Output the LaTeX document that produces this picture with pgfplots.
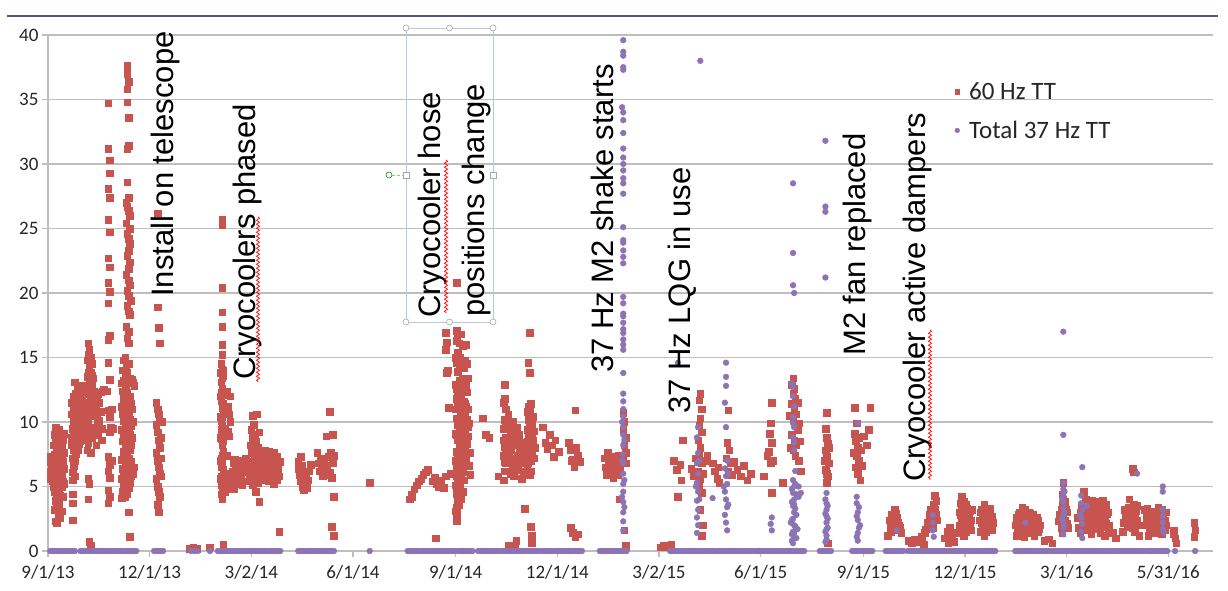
\documentclass[border=0pt]{standalone}
\usepackage{fontspec}
\setmainfont{Carlito}
\newfontfamily\arialf{Liberation Sans}
\usepackage{pgfplots}
\pgfplotsset{compat=1.18}
\usetikzlibrary{decorations.pathmorphing}
\definecolor{redTT}{RGB}{200,84,80}
\definecolor{purTT}{RGB}{140,115,180}
\definecolor{gridc}{RGB}{190,190,190}
\definecolor{topline}{RGB}{85,85,135}
\definecolor{selbox}{RGB}{184,200,220}
\begin{document}
\begin{tikzpicture}
\path[use as bounding box] (0pt,0pt) rectangle (1228pt,591pt);
\draw[topline, line width=2pt] (7pt,575pt) -- (1218pt,575pt);
\begin{axis}[
 at={(48pt,40pt)}, anchor=south west, scale only axis,
 width=1165pt, height=516pt,
 xmin=0, xmax=1043, ymin=0, ymax=40,
 axis x line*=bottom, axis y line*=left,
 axis line style={draw=gridc, line width=1.2pt},
 ymajorgrids, grid style={draw=gridc, line width=1.2pt},
 ytick={0,5,...,40},
 xtick={0,91,182,273,365,456,547,638,730,821,912,1003},
 xticklabels={9/1/13,12/1/13,3/2/14,6/1/14,9/1/14,12/1/14,3/2/15,6/1/15,9/1/15,12/1/15,3/1/16,5/31/16},
 tick align=outside, major tick length=6pt,
 tick style={draw=gridc, line width=1.2pt},
 ticklabel style={font=\fontsize{19}{22}\selectfont, text=black!85},
 xticklabel style={yshift=-5pt},
 /pgf/number format/assume math mode=true,
 clip=false,
 legend style={at={(0.7777,0.91)}, anchor=north west, draw=none, fill=none,
   font=\fontsize{25}{30}\selectfont, row sep=18pt, inner sep=0pt,
   nodes={inner sep=1pt, text=black!85}},
 legend cell align=left,
 legend image code/.code={\draw[#1, mark size=2.4pt] plot coordinates {(0pt,0pt)}; \path[draw=none,fill=none] (-3pt,-2pt) rectangle (11pt,2pt);},
]
% 60 Hz TT
\addplot[only marks, mark=square*, mark size=3.3pt, color=redTT] coordinates {
(2,5.6)(2,6.2)(2,6.9)(2,7.3)(3,5.9)(3,6.5)(4,5.4)(4,6.1)(4,7.0)(5,5.0)(5,6.3)(5,8.2)(6,3.2)(6,4.6)(6,5.8)(6,7.5)(6,9.0)(7,2.3)(7,3.9)(7,5.2)(7,6.6)(7,8.6)(7,9.6)(8,2.2)(8,3.4)(8,4.4)(8,5.5)(8,6.8)(8,8.0)(8,9.2)(9,2.9)(9,4.0)(9,5.1)(9,6.2)(9,7.4)(9,8.8)(10,3.6)(10,4.8)(10,5.9)(10,7.1)(10,8.4)(10,9.4)(11,2.6)(11,4.3)(11,5.6)(11,6.5)(11,7.8)(11,9.0)(12,3.1)(12,5.0)(12,6.0)(12,7.2)(12,8.2)(13,4.2)(13,5.4)(13,6.9)(13,8.6)(14,5.2)(14,6.4)(14,7.6)(14,9.1)
(21,8.2)(21,8.8)(21,10.6)(21,11.5)(22,2.4)(22,3.7)(22,4.4)(22,5.5)(22,6.1)(22,7.2)(22,9.5)(23,6.6)(23,7.8)(23,8.9)(23,10.0)(23,11.2)(23,12.0)(24,5.8)(24,7.0)(24,8.4)(24,9.3)(24,10.5)(24,11.8)(24,13.1)(25,7.5)(25,8.7)(25,9.8)(25,11.0)(25,12.2)(26,8.0)(26,9.1)(26,10.3)(26,11.5)(26,12.6)(27,7.8)(27,9.4)(27,10.8)(27,12.1)(28,8.3)(28,9.6)(28,11.2)(28,12.4)(29,8.5)(29,10.0)(29,11.6)(30,9.0)(30,10.4)(30,12.0)(31,8.6)(31,10.9)(31,12.8)(32,9.2)(32,11.4)(33,10.1)(33,12.2)
(30,11.4)(31,9.6)(32,10.4)(33,11.4)(34,11.5)(35,12.4)(36,13.8)(37,12.2)(38,11.4)(39,13.6)(40,10.7)(41,11.6)(42,12.0)(43,11.2)(44,9.8)(46,11.5)(47,10.8)
(34,9.0)(34,10.6)(34,12.3)(35,7.8)(35,9.8)(35,11.2)(35,13.5)(35,14.8)(36,8.4)(36,10.2)(36,12.6)(36,15.2)(36,16.1)(37,9.3)(37,11.5)(37,13.0)(37,14.2)(37,15.6)(38,7.6)(38,10.8)(38,12.0)(38,13.8)(38,15.0)(39,8.8)(39,11.1)(39,12.8)(39,14.5)(40,9.6)(40,11.9)(40,13.4)(41,10.5)(41,12.4)(42,11.0)(36,5.6)(37,5.2)(36,4.0)(37,0.7)(38,0.4)
(43,8.2)(43,9.2)(44,10.4)(44,11.8)(45,12.2)(45,9.0)(46,10.1)(47,12.3)(48,9.5)(48,8.6)(49,12.4)(50,12.5)(52,12.4)(53,12.4)
(54,34.7)(54,31.2)(55,30.3)(55,29.3)(54,28.1)(55,27.4)(54,25.7)(55,24.7)(54,22.7)(55,22.0)(54,20.8)(55,20.1)(54,19.2)(55,16.7)(54,16.4)(54,14.6)(55,13.3)(54,10.9)(55,10.4)(56,9.6)(55,9.2)(54,7.3)(55,6.7)(54,6.2)(55,5.7)(54,4.7)(55,4.2)(54,3.7)(57,11.0)(58,9.5)(57,7.0)
(71,37.6)(71,37.0)(72,36.4)(71,35.8)(71,34.8)(72,33.6)(72,31.4)(71,31.2)(71,28.6)(72,27.4)(70,27.0)(71,26.7)(72,26.4)(73,26.0)(70,25.4)(73,25.0)(71,24.6)(72,24.2)(73,23.8)(72,23.3)(71,22.9)(73,22.4)(72,21.9)(70,21.4)(72,21.0)(73,20.6)(71,20.2)(72,19.8)(74,19.4)(71,19.0)(72,18.6)(73,18.3)(70,17.4)(72,17.0)(71,16.5)(72,16.1)
(66,13.0)(66,11.2)(66,9.4)(66,7.1)(66,5.6)(66,4.1)(67,14.0)(67,12.4)(67,10.6)(67,8.5)(67,6.4)(67,4.6)(68,14.8)(68,13.2)(68,11.8)(68,10.1)(68,9.0)(68,7.7)(68,6.0)(68,5.0)(69,15.0)(69,13.6)(69,12.6)(69,11.0)(69,9.6)(69,8.3)(69,6.8)(69,5.4)(69,4.2)(70,14.2)(70,12.9)(70,11.5)(70,10.4)(70,9.2)(70,8.0)(70,7.0)(70,6.2)(70,5.1)(71,13.8)(71,12.3)(71,11.1)(71,9.9)(71,8.7)(71,7.5)(71,6.5)(71,5.6)(71,4.4)(72,14.5)(72,13.1)(72,11.7)(72,10.7)(72,9.5)(72,8.4)(72,7.2)(72,6.0)(72,4.9)(73,13.4)(73,12.0)(73,10.2)(73,9.0)(73,7.8)(73,6.6)(73,5.3)(74,13.0)(74,11.4)(74,9.7)(74,8.2)(74,6.9)(74,5.8)(75,13.3)(75,11.0)(75,8.8)(75,6.4)(76,13.1)(76,10.0)(76,6.0)(77,6.5)(77,12.8)(72,3.0)(73,1.1)
(98,26.2)(98,18.9)(99,17.3)(100,16.1)(97,11.5)(98,11.0)(99,10.6)(100,10.0)(97,9.8)(98,9.2)(99,8.6)(100,8.0)(97,7.6)(98,7.0)(99,6.5)(100,6.0)(97,5.6)(98,5.0)(99,4.6)(100,4.2)(98,3.6)(99,3.0)(101,7.2)(101,5.8)(102,10.0)(101,8.8)
(127,0.2)(130,0.3)(133,0.2)(145,0.3)
(156,25.7)(156,25.3)(156,20.4)(156,18.5)(156,17.4)(156,16.0)(156,15.2)(155,14.5)(156,14.1)(157,13.6)(155,13.1)(156,12.6)(157,12.1)(155,11.6)(156,11.1)(157,10.6)(155,10.1)(156,9.7)(157,9.2)(155,8.7)(156,8.2)(157,7.7)(155,7.2)(156,6.8)(157,6.3)(155,5.8)(156,5.4)(157,4.9)(155,4.4)(156,4.0)(158,12.4)(158,9.5)(158,6.0)(158,4.6)(154,13.8)(154,10.4)(154,7.0)(157,0.5)
(155,12.3)(155,9.4)(155,6.5)(155,5.1)(156,13.4)(156,10.4)(156,7.4)(156,4.7)(157,11.4)(157,8.5)(157,5.6)(157,14.0)(154,12.0)(154,8.8)(154,5.6)
(160,12.4)(161,11.2)(162,10.6)(161,9.3)(162,8.9)(163,12.0)(163,10.0)(160,7.4)(161,5.6)(161,4.8)(162,5.2)
(165,5.0)(165,6.2)(166,4.8)(166,6.8)(167,5.6)(167,7.1)(168,6.3)(169,5.2)(169,6.7)(170,6.0)(171,5.5)(171,7.0)(172,6.4)(173,5.8)(173,6.9)(174,5.1)(175,6.5)(176,6.8)(177,5.4)(177,7.2)(178,6.1)(179,6.6)(180,5.7)(181,8.2)(181,6.9)(182,9.4)(182,7.6)(182,5.9)(183,10.5)(183,8.8)(183,6.4)(183,5.1)(184,9.8)(184,7.9)(184,6.7)(185,9.0)(185,7.2)(185,5.6)(186,8.5)(186,6.3)(186,4.6)(187,10.6)(187,7.4)(187,6.0)(188,8.0)(188,6.6)(188,5.3)(189,9.2)(189,7.0)(189,3.8)(190,6.8)(190,5.8)(191,7.6)(191,6.2)(192,5.5)(192,7.0)(193,6.6)(194,7.8)(194,5.9)(195,6.9)(196,6.3)(196,7.4)(197,5.4)(198,6.7)(198,7.7)(199,6.0)(200,7.1)(200,5.6)(201,6.5)(202,7.6)(202,5.2)(203,6.8)(204,6.0)(205,7.3)(205,5.5)(206,6.4)(207,1.5)(207,5.8)(208,6.9)
(224,6.9)(224,6.4)(225,5.9)(226,7.3)(226,5.4)(227,6.6)(228,5.0)(228,6.1)(229,4.7)(230,5.6)(231,5.2)(231,6.0)(232,4.9)(233,5.5)(234,6.2)(235,6.7)
(241,7.6)(242,6.8)(243,6.2)(244,7.2)(245,6.5)(246,5.8)(247,7.0)(248,6.6)(249,5.9)(249,8.9)(250,6.4)(251,7.3)(252,10.8)(252,6.1)(253,7.6)(254,5.7)(255,6.8)(255,9.0)(256,7.4)(256,4.2)(254,1.9)(256,1.2)
(288,5.3)
(324,4.0)(325,4.4)(326,4.2)(328,4.8)(330,5.1)(332,5.4)(334,5.6)(336,5.9)(338,6.1)(340,6.3)
(344,5.4)(346,5.7)(348,5.2)(350,5.0)(352,5.5)(354,4.9)(356,5.8)(347,1.0)
(356,16.9)(357,16.2)(356,15.6)(358,14.0)(357,13.8)(359,11.1)(360,6.0)
(366,20.8)
(366,17.1)(366,16.3)(367,15.4)(366,14.6)(367,13.9)(368,13.2)(366,12.6)(367,12.0)(368,11.4)(369,10.8)(366,10.3)(367,9.8)(368,9.3)(369,8.7)(370,8.2)(366,7.7)(367,7.2)(368,6.8)(369,6.3)(366,5.8)(367,5.3)(368,4.8)(366,4.4)(367,3.9)(366,3.4)(366,2.9)(366,2.3)(370,16.8)(371,15.9)(370,14.8)(372,14.2)(371,13.4)(373,12.8)(370,12.2)(372,11.6)(371,11.0)(373,10.5)(374,10.0)(372,9.5)(371,9.0)(374,8.5)(373,7.9)(372,7.4)(370,6.9)(371,6.1)(372,5.5)(371,4.6)(375,12.3)(376,11.0)(377,9.9)(376,8.9)(378,7.6)(377,6.6)(378,5.9)(375,14.5)(374,16.0)
(365,15.0)(365,12.9)(365,11.0)(365,9.1)(365,7.0)(365,5.1)(365,3.1)(368,16.1)(368,14.4)(368,12.4)(368,10.1)(368,8.0)(368,5.9)(368,3.6)(369,15.0)(369,13.0)(369,11.8)(369,9.6)(369,7.6)(369,5.2)(370,11.0)(370,9.8)(370,7.8)(370,5.9)(370,4.0)(373,14.8)(373,11.4)(373,9.1)(373,6.6)(374,12.9)(374,11.2)(374,7.2)(375,10.2)(375,8.3)(376,13.4)(376,9.6)(367,16.8)(367,11.3)(367,8.6)(367,6.3)(367,4.5)(366,11.8)(366,9.0)(366,6.6)(366,5.0)
(389,10.3)(392,9.0)(395,8.8)(403,5.8)
(409,12.9)(408,11.5)(410,11.0)(409,10.2)(408,9.5)(410,8.8)(409,8.1)(408,7.4)(410,6.8)(409,6.2)(408,5.5)(411,7.8)(412,6.9)(413,7.4)(414,6.0)(415,8.2)(416,6.6)(417,5.8)(418,9.0)(419,7.1)(420,6.3)(421,8.4)(422,7.7)(423,6.8)(424,5.6)(425,7.4)(426,6.2)(427,3.3)(412,0.4)(418,0.4)(419,0.8)
(408,8.6)(409,11.8)(409,6.9)(410,10.0)(410,7.6)(411,9.6)(411,6.2)(412,8.8)(412,10.6)(413,6.2)(414,9.4)(414,7.8)(415,6.8)(416,10.0)(416,8.8)(417,7.2)(418,6.4)(419,8.2)(420,9.6)(420,7.4)(421,6.6)(422,9.0)(423,8.0)(424,7.0)(426,8.4)(429,9.4)(429,7.4)(430,11.2)(430,9.0)(430,6.8)(431,10.8)(431,8.4)(432,11.4)(432,7.9)(432,6.2)(433,9.8)(434,8.6)(435,7.2)
(431,16.9)(430,14.6)(431,13.8)(429,10.8)(430,10.2)(431,9.6)(432,9.0)(429,8.5)(430,8.0)(431,7.5)(432,7.0)(429,6.6)(431,5.9)(433,8.7)(434,10.4)(433,7.4)(432,1.9)(433,1.2)(433,0.6)(435,9.3)(436,8.0)
(443,9.6)(445,8.4)(447,7.9)(449,9.0)(451,8.2)(453,7.3)(454,8.6)(457,7.7)
(472,10.9)(466,8.4)(468,7.8)(470,7.1)(471,6.5)(473,8.0)(474,7.4)(476,6.9)(468,1.8)(470,1.4)(472,1.1)(474,1.3)(469,7.0)
(498,7.2)(499,6.5)(500,5.9)(501,7.6)(502,6.8)(503,6.0)(504,7.3)(505,6.4)(506,5.7)(507,7.0)(508,6.2)(509,6.8)(510,5.9)(511,7.4)(512,4.0)(512,6.5)
(515,10.7)(516,10.0)(515,9.4)(517,8.8)(516,8.2)(517,7.6)(515,7.1)(517,6.8)(516,1.6)(517,0.4)
(548,0.3)(551,0.4)(555,0.3)(558,0.5)
(568,8.6)(560,7.0)(563,6.3)(566,6.7)(564,4.2)(567,5.5)
(584,12.2)(583,11.7)(585,11.0)(584,10.3)(583,9.7)(585,9.2)(582,8.6)(584,8.0)(583,7.4)(585,6.8)(582,6.2)(584,5.6)(583,5.0)(585,4.5)(584,3.2)(576,6.4)(578,5.8)(580,7.2)(586,6.0)(588,7.0)(590,7.4)(586,2.0)(585,1.2)
(595,6.8)(597,6.2)(599,5.6)(601,5.3)(600,6.5)
(609,10.9)(608,8.4)(610,7.8)(607,7.2)(611,6.8)(609,6.2)(612,5.9)
(614,6.9)(617,6.3)(620,5.8)(623,6.6)(626,5.5)(629,6.0)
(648,11.5)(647,9.9)(646,9.1)(648,8.4)(645,7.7)(649,7.0)(647,6.8)(641,5.8)(648,4.5)(644,7.4)(658,5.3)
(667,13.4)(666,12.9)(668,12.6)(667,12.2)(669,11.8)(666,11.4)(668,11.0)(670,10.6)(667,10.2)(669,9.8)(671,9.4)(666,9.0)(668,8.6)(670,8.2)(667,7.8)(669,7.4)(672,9.9)(673,8.5)(664,10.5)(665,8.0)(671,11.5)(672,7.0)(674,6.2)
(697,10.7)(696,9.5)(697,8.8)(698,8.3)(696,7.8)(697,7.3)(699,6.8)(696,6.3)(698,5.8)(697,5.3)(695,7.0)(699,8.0)(698,0.6)(697,6.0)
(722,11.1)(736,11.1)(724,9.9)(722,9.1)(723,8.5)(725,8.0)(724,7.4)(726,7.0)(723,6.5)(725,6.0)(727,5.5)(728,7.8)(729,6.6)(730,8.9)(733,8.2)(735,9.4)(721,7.6)(726,8.8)
(758,3.2)(752,1.2)(754,1.8)(756,2.2)(760,2.6)(762,2.0)(764,1.4)(759,2.9)(757,2.5)(755,1.5)(753,2.4)(755,2.8)(757,1.6)(759,1.9)(761,2.2)(763,1.8)
(770,0.8)(773,0.6)(776,0.9)(779,0.7)(782,1.1)(785,1.4)(787,2.2)(789,2.8)(790,3.2)(791,2.5)(793,3.6)(794,4.3)(795,3.9)(796,2.4)(792,1.8)(784,0.5)(780,0.8)(786,1.7)(788,2.0)(790,2.0)(792,3.0)(793,2.5)(794,3.2)(795,2.8)
(803,1.0)(805,1.5)(807,1.8)(809,1.2)(811,0.7)(813,1.4)(806,0.6)
(818,4.2)(817,3.7)(819,3.3)(820,2.9)(818,2.6)(821,2.3)(817,2.0)(819,1.6)(822,3.6)(823,2.7)(825,3.1)(824,1.9)(826,2.4)(816,3.0)
(816,2.0)(817,2.8)(818,3.4)(819,2.4)(820,3.8)(821,3.0)(822,1.5)(823,3.3)(824,2.7)(825,2.2)(826,1.6)(827,3.2)(820,1.2)
(838,3.6)(836,3.2)(840,2.9)(837,2.6)(839,2.2)(841,1.8)(835,1.5)(842,3.0)(843,2.4)(844,1.9)(838,1.2)(845,2.7)
(834,2.4)(835,3.0)(836,2.2)(837,1.8)(839,3.3)(840,1.5)(841,3.2)(842,2.0)(843,3.3)(844,2.7)(845,1.6)(846,2.2)
(872,3.4)(873,2.9)(868,2.5)(870,2.0)(871,1.5)(874,1.1)(876,2.6)(878,2.2)(880,1.7)(882,2.8)(884,2.3)(886,1.5)(888,2.0)(867,1.2)(869,2.8)(875,3.2)(877,1.4)(879,2.9)(883,1.2)(885,2.6)
(866,2.0)(867,2.6)(868,1.6)(869,2.1)(870,3.0)(871,2.6)(872,1.8)(873,2.2)(874,2.9)(875,1.8)(876,1.5)(877,2.4)(878,3.0)(879,1.8)(880,2.5)(881,1.9)(882,2.2)(883,2.6)(884,1.6)(885,2.0)(886,2.4)(887,1.7)
(892,0.8)(896,0.9)(899,0.6)
(909,5.3)(908,4.4)(910,3.8)(907,3.2)(909,2.6)(911,2.0)(908,1.4)(905,2.3)(912,3.0)(913,1.8)(906,2.8)(907,1.8)(908,3.6)(909,4.0)(910,2.4)(911,3.2)(912,2.1)
(927,4.6)(929,4.0)(925,3.5)(931,3.4)(933,2.8)(935,3.9)(937,2.5)(939,3.2)(941,2.1)(943,2.9)(945,2.4)(947,3.6)(949,1.8)(924,1.4)(926,2.2)(930,1.6)(934,1.3)(938,1.9)(942,1.4)(946,1.2)(950,2.0)(944,3.9)
(922,2.6)(923,1.8)(924,3.0)(927,2.9)(928,3.2)(929,2.2)(930,2.6)(931,2.0)(932,3.6)(933,1.8)(934,2.4)(935,2.9)(936,1.7)(937,3.5)(938,2.8)(939,2.2)(940,3.0)(941,3.8)(942,2.6)(943,1.9)(944,2.4)(945,3.2)(946,2.6)(947,2.1)(948,2.9)(949,3.0)(950,1.5)
(953,1.4)(956,1.0)
(962,1.5)(965,2.6)(967,3.4)(968,4.0)(969,3.0)(970,2.2)(972,3.6)(973,1.5)(975,2.4)(977,1.2)(971,6.4)(972,6.1)(966,1.9)(974,3.1)
(963,2.2)(964,3.2)(966,3.0)(967,2.4)(968,1.9)(969,2.5)(970,3.4)(971,1.8)(973,2.9)(974,2.0)(975,3.5)(976,2.0)
(982,3.2)(984,2.5)(986,1.8)(988,2.9)(990,1.4)(992,2.2)(994,3.4)(996,2.7)(998,1.6)(1000,2.4)(1001,3.0)(985,1.2)(989,2.0)(997,1.3)
(981,2.0)(983,2.6)(984,3.3)(985,2.4)(986,2.9)(987,1.9)(988,2.3)(989,3.1)(990,2.6)(991,1.8)(992,3.0)(993,2.4)(994,1.9)(995,2.8)(996,2.0)(997,3.2)(998,2.6)(999,2.1)(1000,1.6)(1001,2.0)
(1008,1.6)(1009,1.0)(1010,0.6)(1008,1.3)
(1026,2.2)(1027,1.6)(1026,1.1)
};
\addlegendentry{60 Hz TT}
% Total 37 Hz TT (non-zero)
\addplot[only marks, mark=*, mark size=2.9pt, color=purTT] coordinates {
(515,39.6)(515,38.7)(515,38.4)(515,37.5)(515,37.3)(514,34.4)(515,34.0)(515,33.4)(515,32.4)(515,31.2)(515,30.5)(515,30.0)(515,29.5)(515,28.9)(515,28.5)(515,27.7)(515,25.1)(515,24.1)(515,23.9)(515,23.3)(515,22.8)(515,22.3)(515,19.7)(515,19.2)(515,18.4)(515,18.2)(515,17.7)(515,17.2)(515,16.9)(515,16.4)(515,16.0)(515,15.6)(515,13.8)(515,12.2)(515,11.6)(515,11.0)(515,10.4)(515,9.6)(515,9.0)(515,8.2)(515,7.5)(515,6.8)(515,6.0)(515,5.2)(515,4.6)(515,3.8)(515,3.0)(515,2.3)(515,1.6)(514,10.0)(516,8.6)(514,7.0)(516,5.5)(514,4.2)(516,3.4)
(564,14.6)(584,38.0)
(582,9.6)(581,8.8)(582,7.6)(581,6.8)(582,6.0)(581,5.3)(582,4.6)(581,3.9)(582,3.2)(581,2.6)(582,2.0)(581,1.4)(580,5.0)(583,4.0)(583,7.0)
(607,14.6)(607,13.5)(607,12.8)(606,11.5)(607,9.6)(608,7.0)(606,6.4)(607,5.8)(608,5.2)(606,4.6)(607,4.0)(608,3.4)(606,2.8)(607,2.2)(608,1.6)(609,6.0)(605,5.0)(609,3.6)
(595,4.1)(648,2.6)(648,1.6)(647,2.1)
(667,12.7)(667,12.0)(668,11.2)(667,10.4)(668,9.6)(667,8.8)(668,7.8)(667,5.5)(668,5.0)(667,4.5)(668,4.0)(667,3.5)(668,3.0)(667,2.5)(668,2.0)(667,1.5)(668,1.1)(669,6.2)(666,3.8)(670,2.8)(665,2.2)(671,1.7)(672,4.2)(672,5.0)(666,13.0)(667,9.9)(668,8.4)(674,4.5)
(666,0.8)(667,0.6)(668,1.4)(669,1.9)(666,2.4)(669,3.3)(670,4.4)(666,4.8)(669,5.2)(670,1.0)(668,3.6)(666,1.3)
(667,28.5)(667,23.1)(667,20.6)(668,20.0)
(696,31.8)(696,26.7)(696,26.3)(696,21.2)
(697,4.5)(697,3.2)(697,2.7)(697,2.2)(697,1.7)(697,1.2)(698,2.5)(696,1.5)(697,3.7)(696,0.7)(697,0.9)(698,1.8)(696,2.9)(698,3.5)(696,4.0)
(725,9.9)(724,3.7)(725,3.0)(725,2.4)(726,1.8)(724,1.1)(727,2.0)(724,2.7)(725,1.4)(726,3.4)(724,4.2)(725,0.8)
(760,1.6)(792,2.2)(792,1.6)(793,1.1)(792,2.8)(875,2.2)
(909,17.0)(909,9.0)(909,5.3)(909,4.8)(909,4.3)(909,3.8)(909,3.3)(909,2.8)(909,2.3)(909,1.8)(909,1.3)(908,4.0)(910,3.0)(910,2.0)(908,2.5)(910,4.6)
(926,6.5)(925,4.3)(925,3.7)(926,3.2)(925,2.6)(926,2.1)(925,1.5)(926,1.0)(930,3.5)(924,2.8)
(975,6.0)(998,5.0)(998,4.6)(998,3.2)(998,2.7)(998,2.2)(998,1.7)(999,1.4)
};
\addlegendentry{Total 37 Hz TT}
% Total 37 Hz TT (zero readings)
\addplot[only marks, mark=*, mark size=2.9pt, color=purTT, forget plot] coordinates {
(2,0)(4,0)(6,0)(8,0)(10,0)(12,0)(14,0)(16,0)(18,0)(20,0)(22,0)(24,0)
(29,0)(31,0)(33,0)(35,0)(37,0)(39,0)(41,0)(43,0)(45,0)(47,0)(49,0)(51,0)(53,0)(55,0)(57,0)(59,0)(61,0)(63,0)(65,0)(67,0)(69,0)(71,0)(73,0)(75,0)(77,0)(79,0)
(95,0)(97,0)(99,0)(101,0)(103,0)(128,0)(131,0)(134,0)(145,0)
(152,0)(154,0)(156,0)(158,0)(160,0)(162,0)(164,0)(166,0)(168,0)(170,0)(172,0)(174,0)(176,0)(178,0)(180,0)(182,0)(184,0)(186,0)(188,0)(190,0)(192,0)(194,0)(196,0)(198,0)(200,0)(202,0)(204,0)(206,0)(208,0)
(224,0)(226,0)(228,0)(230,0)(232,0)(234,0)(236,0)(238,0)(240,0)(242,0)(244,0)(246,0)(248,0)(250,0)(252,0)(254,0)(256,0)(288,0)
(322,0)(324,0)(326,0)(328,0)(330,0)(332,0)(334,0)(336,0)(338,0)(340,0)(342,0)(344,0)(346,0)(348,0)(350,0)(352,0)(354,0)(356,0)(358,0)(360,0)(362,0)(364,0)(366,0)(368,0)(370,0)(372,0)(374,0)(376,0)(378,0)(380,0)
(385,0)(387,0)(389,0)(391,0)(393,0)(395,0)(397,0)(399,0)(401,0)(403,0)(405,0)(407,0)(409,0)(411,0)(413,0)(415,0)(417,0)(419,0)(421,0)(423,0)(425,0)(427,0)(429,0)(431,0)(433,0)(435,0)(437,0)(439,0)
(442,0)(444,0)(446,0)(448,0)(450,0)(452,0)(454,0)(456,0)(458,0)(460,0)(462,0)(464,0)(466,0)(468,0)(470,0)(472,0)(474,0)(476,0)(478,0)
(494,0)(496,0)(498,0)(500,0)(502,0)(504,0)(506,0)(508,0)(510,0)(512,0)(514,0)(516,0)(518,0)
(557,0)(559,0)(561,0)(563,0)(565,0)(567,0)(569,0)(571,0)(573,0)(575,0)(577,0)(579,0)(581,0)(583,0)(585,0)(587,0)(589,0)(591,0)(593,0)(595,0)(597,0)(599,0)(601,0)(603,0)(605,0)(607,0)(609,0)(611,0)(613,0)(615,0)(617,0)(619,0)(621,0)(623,0)(625,0)(627,0)(629,0)(631,0)(633,0)(635,0)(637,0)(639,0)(641,0)(643,0)(645,0)(647,0)(649,0)(651,0)(653,0)(655,0)(657,0)(659,0)(661,0)(663,0)(665,0)(667,0)(669,0)(671,0)(673,0)(675,0)(677,0)
(691,0)(693,0)(695,0)(697,0)(699,0)(701,0)
(720,0)(722,0)(724,0)(726,0)(728,0)(730,0)(732,0)(734,0)(736,0)(738,0)
(750,0)(752,0)(754,0)(756,0)(758,0)(760,0)(762,0)(764,0)(766,0)
(770,0)(772,0)(774,0)(776,0)(778,0)(780,0)(782,0)(784,0)(786,0)(788,0)(790,0)(792,0)(794,0)(796,0)(798,0)(800,0)(802,0)(804,0)(806,0)(808,0)(810,0)(812,0)(814,0)(816,0)(818,0)(820,0)(822,0)(824,0)(826,0)(828,0)(830,0)(832,0)(834,0)(836,0)(838,0)(840,0)(842,0)(844,0)(846,0)(848,0)
(866,0)(868,0)(870,0)(872,0)(874,0)(876,0)(878,0)(880,0)(882,0)(884,0)(886,0)(888,0)(890,0)(892,0)(894,0)(896,0)(898,0)(900,0)(902,0)(904,0)(906,0)(908,0)(910,0)(912,0)(914,0)(916,0)(918,0)(920,0)(922,0)(924,0)(926,0)(928,0)(930,0)(932,0)(934,0)(936,0)(938,0)(940,0)(942,0)(944,0)(946,0)(948,0)(950,0)(952,0)(954,0)(956,0)(958,0)(960,0)(962,0)(964,0)(966,0)(968,0)(970,0)(972,0)(974,0)(976,0)(978,0)(980,0)(982,0)(984,0)(986,0)(988,0)(990,0)(992,0)(994,0)(996,0)(998,0)(1000,0)(1002,0)
(1009,0)(1027,0)
};
\end{axis}
% selection box (as in the reference screenshot)
\draw[selbox, line width=0.8pt] (406pt,563pt) rectangle (493pt,269pt);
\draw[gray!60, densely dashed, line width=0.6pt] (392pt,416pt) -- (403pt,416pt);
\foreach \hx/\hy in {406/563,449.5/563,493/563,406/269,449.5/269,493/269}
  \draw[gray!70, fill=white, line width=0.6pt] (\hx pt,\hy pt) circle (3pt);
\draw[gray!70, fill=white, line width=0.6pt] (403pt,413pt) rectangle (409pt,419pt);
\draw[gray!70, fill=white, line width=0.6pt] (490pt,413pt) rectangle (496pt,419pt);
\draw[green!55!black, fill=white, line width=0.6pt] (389pt,416pt) circle (3pt);
% annotations
\begin{scope}[every node/.style={rotate=90, anchor=base west, inner sep=0pt, font=\arialf\fontsize{31}{36}\selectfont}]
\node at (173pt,294pt) {Install on telescope};
\node at (255pt,211pt) {Cryocoolers phased};
\node at (440pt,273pt) {Cryocooler hose};
\node at (484pt,274pt) {positions change};
\node at (613pt,218pt) {37 Hz M2 shake starts};
\node at (690pt,177pt) {37 Hz LQG in use};
\node at (865pt,235pt) {M2 fan replaced};
\node at (925pt,109pt) {Cryocooler active dampers};
\end{scope}
% spell-check squiggles
\begin{scope}[red, line width=0.7pt, decoration={snake, amplitude=1.6pt, segment length=4pt}]
\draw[decorate] (258pt,374pt) -- (258pt,209pt);
\draw[decorate] (446pt,431pt) -- (446pt,278pt);
\draw[decorate] (930pt,261pt) -- (930pt,111pt);
\end{scope}
\end{tikzpicture}
\end{document}
